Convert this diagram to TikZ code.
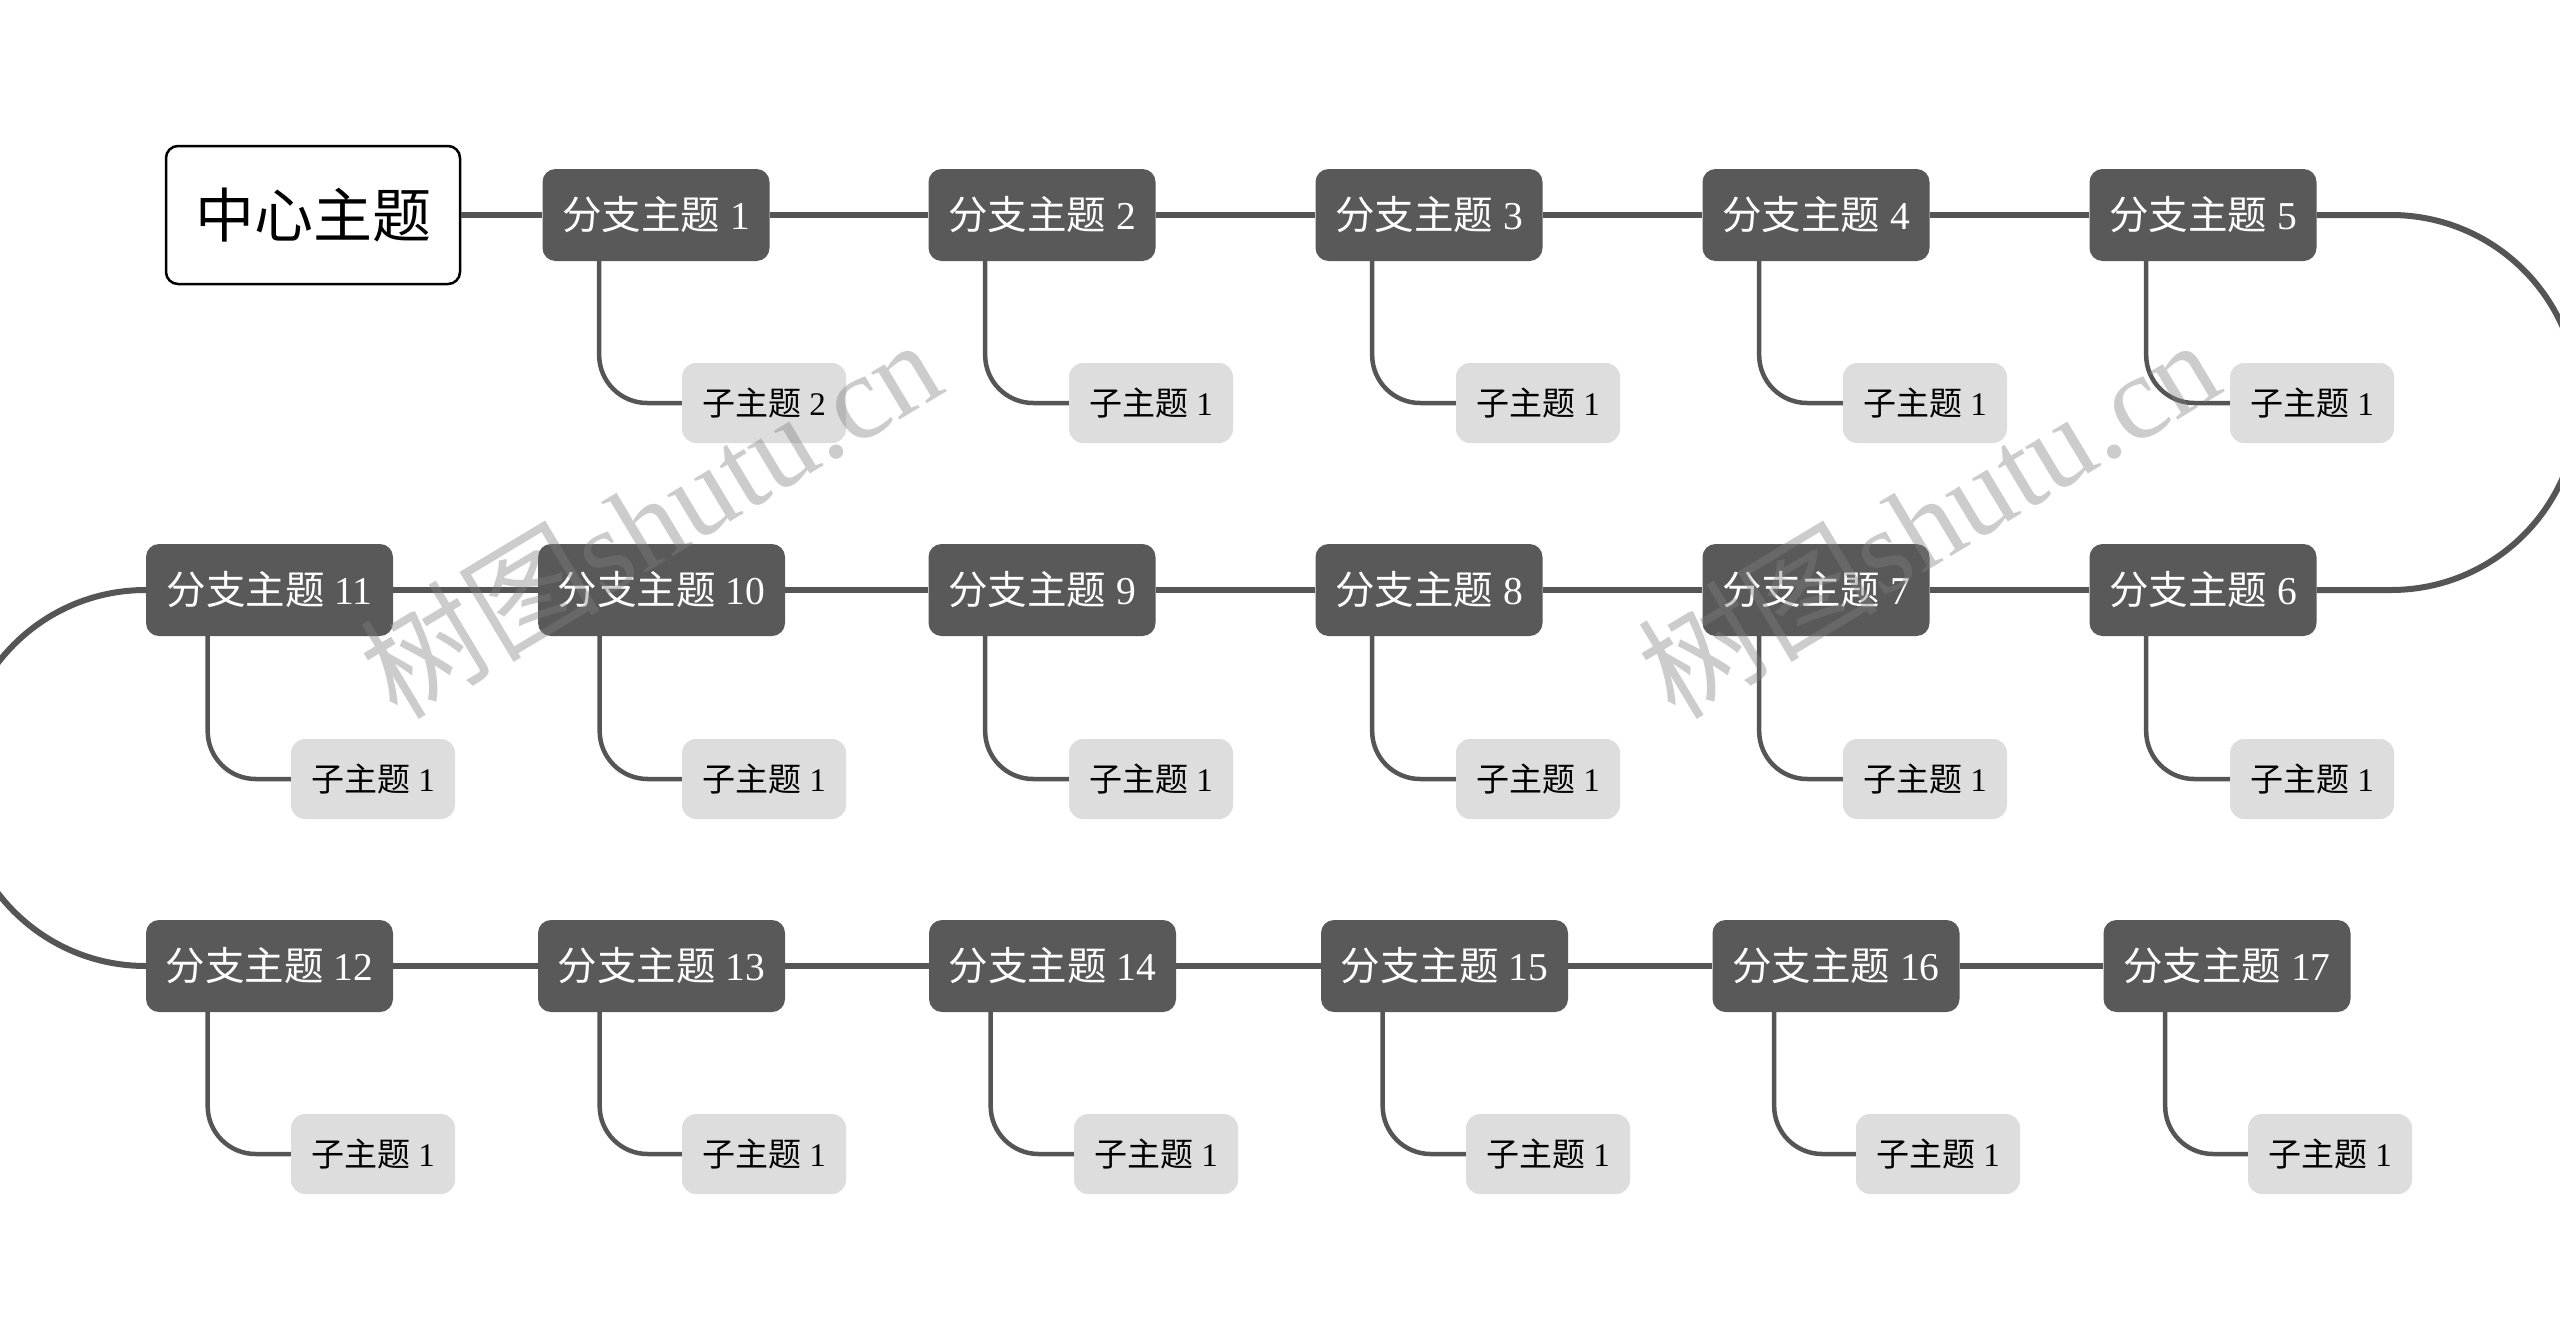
\documentclass[tikz,border=0pt]{standalone}
\usepackage{fontspec}
\setmainfont{Liberation Serif}
\newfontfamily\cjk{Noto Sans CJK SC}
\usetikzlibrary{calc}
\definecolor{bfill}{HTML}{595959}
\definecolor{lcol}{HTML}{555555}
\definecolor{sfill}{HTML}{DDDDDD}
\newcommand\btxt[1]{{\cjk 分支主题} #1}
\newcommand\stxt[1]{{\cjk 子主题} #1}
\begin{document}
\begin{tikzpicture}[x=1pt,y=-1pt,
 central/.style={draw=black, line width=2.5pt, fill=white, rounded corners=12pt, minimum width=294pt, minimum height=138pt, inner sep=0pt, font=\cjk\fontsize{59}{61}\selectfont},
 branch/.style={fill=bfill, rounded corners=13pt, minimum width=227pt, minimum height=92pt, inner sep=0pt, text=white, font=\fontsize{39.5}{41}\selectfont},
 wbranch/.style={branch, minimum width=247pt},
 subt/.style={fill=sfill, rounded corners=14pt, minimum width=164pt, minimum height=80pt, inner sep=0pt, font=\fontsize{33}{35}\selectfont},
 mainline/.style={draw=lcol, line width=6pt},
 subline/.style={draw=lcol, line width=4.5pt, rounded corners=48pt},
 wmark/.style={rotate=31, text=gray, opacity=0.4, font=\fontsize{120}{120}\selectfont},
]
\useasboundingbox (0,0) rectangle (2560,1341);
\fill[white] (0,0) rectangle (2560,1341);

% central
\node[central] (c) at (313,215) {中心主题};

% row 1
\node[branch] (b1) at (656,215) {\btxt{1}};
\node[branch] (b2) at (1042,215) {\btxt{2}};
\node[branch] (b3) at (1429,215) {\btxt{3}};
\node[branch] (b4) at (1816,215) {\btxt{4}};
\node[branch] (b5) at (2203,215) {\btxt{5}};
% row 2
\node[branch] (b6) at (2203,590) {\btxt{6}};
\node[branch] (b7) at (1816,590) {\btxt{7}};
\node[branch] (b8) at (1429,590) {\btxt{8}};
\node[branch] (b9) at (1042,590) {\btxt{9}};
\node[wbranch] (b10) at (661.5,590) {\btxt{10}};
\node[wbranch] (b11) at (269.5,590) {\btxt{11}};
% row 3
\node[wbranch] (b12) at (269.5,966) {\btxt{12}};
\node[wbranch] (b13) at (661.5,966) {\btxt{13}};
\node[wbranch] (b14) at (1052.5,966) {\btxt{14}};
\node[wbranch] (b15) at (1444.5,966) {\btxt{15}};
\node[wbranch] (b16) at (1836,966) {\btxt{16}};
\node[wbranch] (b17) at (2227,966) {\btxt{17}};

% subtopics
\node[subt] (s1) at (764,403) {\stxt{2}};
\node[subt] (s2) at (1151,403) {\stxt{1}};
\node[subt] (s3) at (1538,403) {\stxt{1}};
\node[subt] (s4) at (1925,403) {\stxt{1}};
\node[subt] (s5) at (2312,403) {\stxt{1}};
\node[subt] (s6) at (2312,779) {\stxt{1}};
\node[subt] (s7) at (1925,779) {\stxt{1}};
\node[subt] (s8) at (1538,779) {\stxt{1}};
\node[subt] (s9) at (1151,779) {\stxt{1}};
\node[subt] (s10) at (764,779) {\stxt{1}};
\node[subt] (s11) at (373,779) {\stxt{1}};
\node[subt] (s12) at (373,1154) {\stxt{1}};
\node[subt] (s13) at (764,1154) {\stxt{1}};
\node[subt] (s14) at (1156,1154) {\stxt{1}};
\node[subt] (s15) at (1548,1154) {\stxt{1}};
\node[subt] (s16) at (1938,1154) {\stxt{1}};
\node[subt] (s17) at (2330,1154) {\stxt{1}};

% main chain
\draw[mainline] (c.east) -- (b1.west);
\draw[mainline] (b1.east) -- (b2.west);
\draw[mainline] (b2.east) -- (b3.west);
\draw[mainline] (b3.east) -- (b4.west);
\draw[mainline] (b4.east) -- (b5.west);
\draw[mainline] (b5.east) -- (2391,215) .. controls (2494.6,215) and (2578.5,298.9) .. (2578.5,402.5) .. controls (2578.5,506.1) and (2494.6,590) .. (2391,590) -- (b6.east);
\draw[mainline] (b6.west) -- (b7.east);
\draw[mainline] (b7.west) -- (b8.east);
\draw[mainline] (b8.west) -- (b9.east);
\draw[mainline] (b9.west) -- (b10.east);
\draw[mainline] (b10.west) -- (b11.east);
\draw[mainline] (b11.west) .. controls (42,590) and (-41,674) .. (-41,778) .. controls (-41,882) and (42,966) .. (b12.west);
\draw[mainline] (b12.east) -- (b13.west);
\draw[mainline] (b13.east) -- (b14.west);
\draw[mainline] (b14.east) -- (b15.west);
\draw[mainline] (b15.east) -- (b16.west);
\draw[mainline] (b16.east) -- (b17.west);

% sub connectors
\foreach \i in {1,...,17}{
  \draw[subline] ($(b\i.south west)!0.25!(b\i.south east)$) |- (s\i.west);
}

% watermarks
\node[wmark] (wm1) at (650,517) {{\cjk 树图}shutu.cn};
\node[wmark] (wm2) at (1928,517) {{\cjk 树图}shutu.cn};
\end{tikzpicture}
\end{document}
